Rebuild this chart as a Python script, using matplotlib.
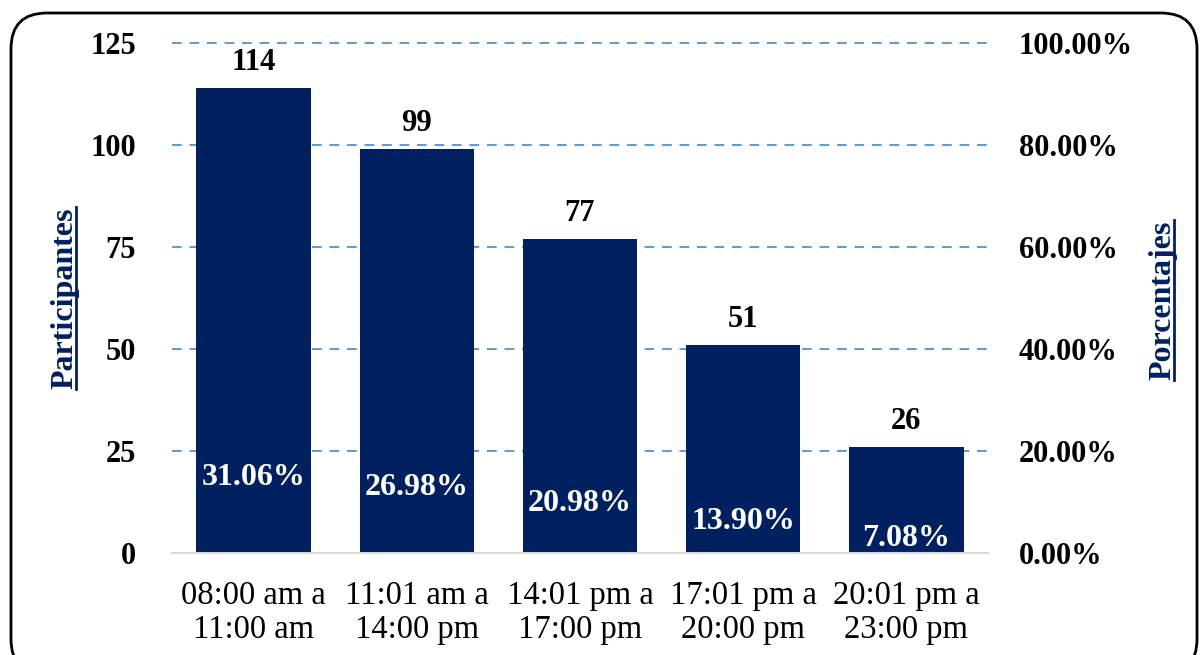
import matplotlib
matplotlib.use("Agg")
import matplotlib.pyplot as plt
from matplotlib.patches import FancyBboxPatch
from matplotlib.lines import Line2D
from matplotlib.ticker import FuncFormatter

categories = ["08:00 am a\n11:00 am", "11:01 am a\n14:00 pm", "14:01 pm a\n17:00 pm",
              "17:01 pm a\n20:00 pm", "20:01 pm a\n23:00 pm"]
participantes = [114, 99, 77, 51, 26]
porcentajes = [31.06, 26.98, 20.98, 13.90, 7.08]

left_ticks = [0, 25, 50, 75, 100, 125]
right_ticks = [0.0, 0.2, 0.4, 0.6, 0.8, 1.0]

NAVY = "#002060"
GRID = "#5B9BD5"
FONT = "Liberation Serif"
FS = 22

plt.rcParams["font.family"] = [FONT, "DejaVu Serif"]

fig = plt.figure(figsize=(12, 6.55), dpi=100)
ax = fig.add_axes([172 / 1200, 102 / 655, 816 / 1200, 510 / 655])

x = list(range(len(categories)))
ax.bar(x, participantes, width=0.70, color=NAVY, zorder=3)
ax.set_xlim(-0.5, len(categories) - 0.5)
ax.set_ylim(0, 125)
ax.set_yticks(left_ticks)
ax.set_xticks(x)
ax.set_xticklabels(categories, fontsize=23.5, linespacing=1.12)
ax.tick_params(axis="x", length=0, pad=20)
ax.tick_params(axis="y", length=0, pad=26, labelsize=FS)
for lab in ax.get_yticklabels():
    lab.set_fontweight("bold")

for s in ["top", "right", "left"]:
    ax.spines[s].set_visible(False)
ax.spines["bottom"].set_color("#D9D9D9")
ax.spines["bottom"].set_linewidth(1.5)
ax.spines["bottom"].set_zorder(4)

for t in left_ticks[1:]:
    ax.axhline(t, color=GRID, linestyle=(0, (5, 4)), linewidth=1.4, zorder=1, clip_on=False)

for xi, v in zip(x, participantes):
    ax.annotate(str(v), (xi, v), xytext=(0, 8), textcoords="offset points",
                ha="center", va="bottom", fontsize=FS, fontweight="bold", color="black")

ax2 = ax.twinx()
ax2.set_ylim(0, 1)
ax2.set_yticks(right_ticks)
ax2.yaxis.set_major_formatter(FuncFormatter(lambda v, p: f"{v * 100:.2f}%"))
ax2.tick_params(axis="y", length=0, pad=22, labelsize=FS)
for lab in ax2.get_yticklabels():
    lab.set_fontweight("bold")
for s in ax2.spines.values():
    s.set_visible(False)

for xi, p in zip(x, porcentajes):
    ax2.text(xi, p / 100 / 2, f"{p:.2f}%", ha="center", va="center_baseline",
             fontsize=23, fontweight="bold", color="white", zorder=5)

t1 = fig.text(65 / 1200, 1 - 298 / 655, "Participantes", rotation=90, ha="center", va="center",
              fontsize=23, fontweight="bold", color=NAVY)
t2 = fig.text(1163 / 1200, 1 - 300 / 655, "Porcentajes", rotation=90, ha="center", va="center",
              fontsize=23, fontweight="bold", color=NAVY)

# underline the rotated axis titles
fig.canvas.draw()
r = fig.canvas.get_renderer()
for t in (t1, t2):
    bb = t.get_window_extent(r)
    xu = (bb.x1 - 4) / fig.bbox.width
    fig.add_artist(Line2D([xu, xu], [bb.y0 / fig.bbox.height, bb.y1 / fig.bbox.height],
                          color=NAVY, linewidth=2))

# rounded border
border = FancyBboxPatch((11 / 1200, -20 / 655), 1186 / 1200, (655 - 13 + 20) / 655,
                        boxstyle="round,pad=0,rounding_size=0.03",
                        transform=fig.transFigure, fill=False, edgecolor="black",
                        linewidth=2, mutation_aspect=1200 / 655)
fig.add_artist(border)

fig.savefig("out.png", dpi=100)
